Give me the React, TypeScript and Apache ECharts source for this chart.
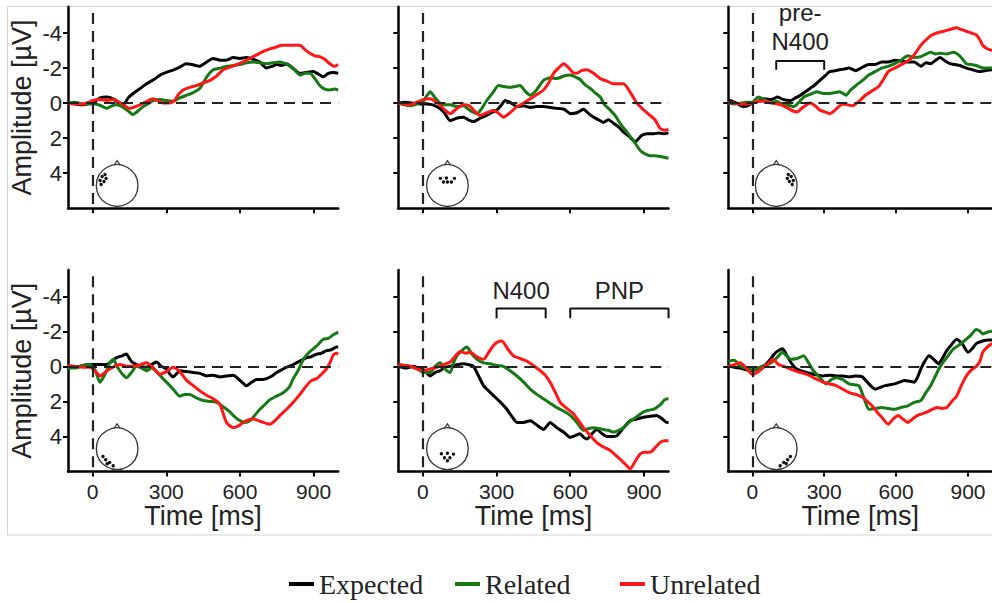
import React, { useEffect, useRef } from 'react';
import * as echarts from 'echarts';

// ---------- categories / ticks ----------
const conditions = ['Expected', 'Related', 'Unrelated'];
const conditionColors = ['#000000', '#157a15', '#ff1616'];
const xTicks = [0, 300, 600, 900];
const yTicks = [-4, -2, 0, 2, 4];
const xRange = [-100, 1000];
const yRange = [-5.5, 6];

// ---------- waveforms [time ms, amplitude µV] ----------
const p1Expected = [[-100,0],[-70,0.05],[-40,0.1],[-10,0],[10,-0.1],[30,-0.3],[60,-0.35],[90,-0.2],[110,0.05],[125,0.1],[145,-0.3],[165,-0.55],[195,-0.85],[220,-1.1],[250,-1.35],[275,-1.6],[300,-1.75],[330,-1.9],[355,-2.05],[380,-2.25],[405,-2.2],[435,-2.1],[460,-2.3],[490,-2.55],[520,-2.45],[545,-2.45],[572,-2.6],[600,-2.55],[627,-2.6],[655,-2.5],[681,-2.35],[708,-2.0],[730,-2.1],[749,-2.2],[770,-2.15],[790,-2.25],[815,-2.0],[844,-1.7],[870,-1.75],[898,-1.8],[920,-1.65],[939,-1.5],[960,-1.7],[980,-1.75],[1000,-1.7]];
const p1Related = [[-100,0],[-70,-0.05],[-40,0.05],[-10,0.05],[10,0.05],[35,0.15],[57,0.3],[80,0.15],[98,0.1],[120,0.2],[145,0.45],[165,0.65],[185,0.45],[206,0.2],[230,0.0],[247,-0.15],[275,-0.2],[301,-0.15],[330,-0.1],[355,-0.3],[383,-0.45],[410,-0.6],[437,-0.85],[465,-1.5],[491,-1.9],[520,-2.0],[545,-2.1],[575,-2.15],[600,-2.2],[627,-2.3],[654,-2.35],[680,-2.3],[708,-2.25],[735,-2.3],[763,-2.35],[785,-2.25],[803,-2.1],[825,-1.85],[844,-1.6],[865,-1.7],[885,-1.7],[905,-1.4],[925,-1.0],[945,-0.8],[966,-0.75],[985,-0.8],[1000,-0.75]];
const p1Unrelated = [[-100,0],[-70,0.05],[-40,0.05],[-15,-0.05],[0,-0.15],[30,-0.2],[60,-0.15],[84,-0.2],[110,-0.05],[130,0.15],[152,0.3],[175,0.2],[193,0.1],[220,-0.1],[247,-0.25],[270,-0.1],[288,0.0],[310,0.0],[330,-0.1],[350,-0.5],[369,-0.75],[395,-0.9],[423,-1.0],[450,-1.15],[478,-1.3],[505,-1.55],[532,-1.9],[560,-2.05],[586,-2.2],[613,-2.35],[640,-2.55],[668,-2.75],[695,-2.95],[722,-3.1],[749,-3.2],[770,-3.3],[790,-3.3],[815,-3.3],[844,-3.3],[865,-3.05],[885,-2.85],[905,-2.7],[925,-2.65],[945,-2.5],[966,-2.25],[985,-2.1],[1000,-2.2]];

const p2Expected = [[-100,0],[-70,-0.05],[-40,0],[-10,0.05],[20,0.05],[57,0.2],[85,0.5],[111,1.0],[140,0.85],[165,0.8],[185,0.95],[206,1.05],[235,0.85],[260,0.7],[285,0.5],[301,0.4],[320,0.1],[335,-0.15],[360,0.0],[383,0.2],[410,0.15],[437,0.25],[465,0.2],[491,0.2],[520,0.25],[545,0.3],[575,0.35],[600,0.6],[627,0.55],[654,0.35],[675,0.6],[695,0.8],[715,0.95],[735,1.1],[755,0.95],[776,1.15],[800,1.4],[817,1.65],[840,1.9],[864,2.2],[890,1.85],[912,1.75],[940,1.75],[960,1.7],[980,1.75],[1000,1.7]];
const p2Related = [[-100,0],[-75,0.1],[-50,0.15],[-25,0.05],[0,-0.1],[15,-0.4],[30,-0.65],[50,-0.3],[70,0.0],[90,0.1],[111,0.1],[140,0.2],[165,0.15],[195,0.45],[220,0.6],[240,0.3],[260,-0.15],[285,-0.6],[308,-1.0],[330,-0.95],[355,-0.9],[375,-0.95],[396,-1.0],[415,-0.7],[437,-0.45],[460,-0.7],[491,-1.3],[520,-1.45],[545,-1.4],[575,-1.55],[600,-1.6],[620,-1.5],[640,-1.35],[660,-1.05],[681,-0.85],[700,-0.6],[722,-0.35],[740,0.1],[763,0.4],[785,0.75],[803,1.15],[825,1.55],[844,1.9],[865,2.3],[885,2.7],[905,2.9],[925,3.0],[945,3.0],[966,3.05],[985,3.1],[1000,3.15]];
const p2Unrelated = [[-100,0],[-75,0.05],[-50,0.1],[-25,-0.05],[0,-0.2],[30,-0.25],[50,-0.1],[70,0.1],[90,0.4],[111,0.6],[135,0.35],[165,0.1],[190,0.15],[210,0.45],[233,0.7],[260,0.55],[288,0.4],[310,0.6],[328,0.8],[355,0.55],[383,0.2],[410,0.0],[437,-0.25],[465,-0.5],[491,-0.75],[510,-1.1],[532,-1.7],[552,-2.0],[573,-2.25],[595,-2.0],[610,-1.75],[627,-1.7],[645,-1.85],[668,-1.9],[695,-1.7],[722,-1.4],[750,-1.25],[776,-1.1],[800,-1.1],[817,-1.1],[845,-0.6],[871,0.0],[900,0.4],[925,0.7],[945,0.95],[966,1.45],[985,1.55],[1000,1.5]];

const p3Expected = [[-100,-0.15],[-80,-0.1],[-60,0.05],[-40,0.2],[-20,0.15],[0,0.0],[25,-0.1],[52,-0.25],[80,-0.2],[106,-0.35],[130,-0.2],[160,-0.15],[180,-0.3],[201,-0.45],[222,-0.65],[242,-0.85],[262,-1.05],[282,-1.3],[303,-1.55],[323,-1.8],[345,-1.85],[364,-1.9],[384,-1.95],[404,-2.0],[431,-1.85],[460,-2.05],[486,-2.2],[513,-2.2],[540,-2.35],[567,-2.35],[594,-2.45],[620,-2.4],[649,-2.35],[676,-2.35],[703,-2.1],[725,-2.3],[744,-2.25],[765,-2.45],[784,-2.6],[805,-2.4],[825,-2.25],[845,-2.2],[866,-2.15],[893,-2.0],[920,-1.9],[947,-1.8],[970,-1.85],[1000,-1.9]];
const p3Related = [[-100,0],[-75,0.05],[-50,0.0],[-25,-0.05],[0,-0.05],[25,-0.35],[52,-0.2],[79,0.0],[100,-0.1],[119,0.0],[145,0.1],[174,0.2],[195,-0.05],[215,-0.35],[242,-0.5],[269,-0.65],[296,-0.55],[323,-0.55],[345,-0.6],[364,-0.65],[391,-0.45],[410,-0.75],[432,-1.0],[460,-1.3],[486,-1.6],[513,-1.8],[540,-2.0],[567,-2.1],[594,-2.25],[620,-2.45],[649,-2.7],[676,-2.6],[703,-2.65],[725,-2.8],[744,-2.9],[765,-2.8],[784,-2.85],[810,-2.8],[839,-2.9],[865,-2.7],[893,-2.25],[915,-2.2],[934,-2.15],[961,-2.0],[980,-2.0],[1000,-2.0]];
const p3Unrelated = [[-100,0],[-75,0.0],[-50,0.05],[-25,0.05],[0,0.0],[25,-0.1],[52,-0.1],[85,0.0],[119,0.1],[150,0.3],[170,0.45],[187,0.5],[210,0.25],[242,0.0],[262,0.15],[282,0.4],[303,0.5],[323,0.6],[345,0.4],[377,0.05],[398,0.1],[418,0.15],[445,-0.1],[472,-0.45],[500,-0.7],[527,-0.95],[547,-1.35],[567,-1.8],[594,-2.0],[621,-2.2],[642,-2.35],[662,-2.55],[683,-2.9],[703,-3.3],[724,-3.6],[744,-3.85],[770,-4.0],[798,-4.1],[825,-4.2],[852,-4.3],[872,-4.2],[893,-4.1],[914,-4.0],[934,-3.9],[950,-3.6],[961,-3.3],[980,-3.1],[1000,-3.0]];

const p4Expected = [[-100,0.0],[-70,0.05],[-40,-0.05],[-10,-0.1],[20,-0.1],[57,-0.1],[80,-0.3],[98,-0.5],[120,-0.6],[138,-0.7],[152,-0.4],[165,-0.2],[195,0.0],[220,0.05],[240,-0.1],[260,-0.25],[280,0.0],[301,0.15],[315,0.45],[328,0.6],[340,0.45],[355,0.25],[385,0.3],[410,0.35],[437,0.4],[464,0.55],[490,0.5],[518,0.6],[545,0.55],[573,0.5],[600,0.8],[627,1.1],[648,0.9],[668,0.75],[690,0.75],[708,0.7],[730,0.55],[749,0.35],[770,0.2],[790,0.05],[810,-0.05],[830,-0.2],[850,-0.35],[871,-0.5],[890,-0.55],[912,-0.7],[932,-0.75],[952,-0.9],[972,-0.95],[993,-1.1],[1000,-1.1]];
const p4Related = [[-100,0.1],[-70,0.1],[-40,-0.05],[-10,-0.1],[10,0.2],[30,0.9],[45,0.6],[57,0.25],[70,-0.2],[84,-0.4],[98,-0.05],[111,0.25],[125,0.5],[138,0.65],[158,0.35],[179,0.0],[200,0.1],[220,0.25],[240,0.1],[260,0.3],[280,0.6],[301,0.9],[328,1.3],[355,1.7],[375,1.6],[396,1.6],[423,1.8],[450,1.95],[478,2.0],[505,2.05],[532,2.3],[559,2.6],[580,2.9],[600,3.1],[620,3.2],[640,3.1],[660,2.8],[681,2.45],[700,2.2],[722,1.9],[749,1.7],[776,1.5],[800,1.2],[817,0.7],[838,0.2],[858,-0.4],[878,-0.75],[898,-1.0],[918,-1.25],[939,-1.55],[960,-1.6],[980,-1.8],[1000,-1.95]];
const p4Unrelated = [[-100,-0.05],[-70,0.0],[-40,0.05],[-10,0.05],[10,0.25],[30,0.55],[50,0.35],[70,0.15],[90,0.0],[111,-0.1],[140,0.0],[165,0.0],[195,-0.1],[220,-0.2],[245,0.05],[274,0.45],[300,0.3],[328,0.05],[355,0.3],[383,0.8],[410,1.1],[437,1.4],[464,1.65],[491,1.85],[518,2.15],[532,2.7],[545,3.2],[560,3.4],[573,3.5],[593,3.4],[613,3.2],[634,3.05],[654,3.0],[675,3.1],[695,3.2],[722,3.3],[743,3.1],[763,2.8],[790,2.45],[817,2.05],[844,1.6],[871,1.1],[892,0.8],[912,0.7],[932,0.45],[952,0.15],[966,-0.2],[980,-0.65],[993,-0.75],[1000,-0.7]];

const p5Expected = [[-100,0.0],[-70,0.1],[-40,0.0],[-15,0.1],[0,0.15],[30,0.55],[50,0.35],[70,0.25],[90,0.05],[111,0.0],[140,-0.1],[165,-0.15],[185,-0.1],[206,0.0],[225,0.5],[247,1.1],[275,1.5],[301,1.85],[320,2.1],[342,2.45],[362,2.85],[383,3.2],[410,3.2],[437,3.1],[464,3.35],[491,3.6],[505,3.4],[518,3.2],[545,3.5],[573,3.75],[600,4.05],[620,3.95],[640,3.85],[655,4.05],[668,4.15],[688,3.85],[708,3.6],[730,3.85],[749,4.0],[770,4.0],[790,3.95],[817,3.5],[844,3.1],[871,3.0],[898,2.9],[925,2.85],[952,2.8],[975,3.0],[993,3.2],[1000,3.2]];
const p5Related = [[-100,-0.1],[-70,-0.05],[-40,0.05],[-15,0.2],[0,0.35],[30,0.35],[50,0.0],[70,-0.2],[90,0.15],[111,0.35],[125,-0.2],[138,-0.6],[158,-0.9],[179,-1.1],[200,-0.7],[220,-0.4],[247,-0.2],[274,-0.15],[301,-0.05],[328,0.0],[355,0.25],[383,0.55],[410,0.9],[437,1.3],[464,1.6],[491,1.85],[518,2.1],[545,2.35],[573,2.55],[600,2.8],[627,3.2],[654,3.65],[675,3.55],[695,3.5],[715,3.55],[735,3.6],[755,3.65],[776,3.75],[797,3.65],[817,3.5],[838,3.2],[858,3.0],[878,2.8],[898,2.6],[918,2.5],[939,2.45],[966,2.2],[985,1.9],[1000,1.85]];
const p5Unrelated = [[-100,-0.1],[-70,-0.05],[-40,0.05],[-15,0.2],[0,0.25],[30,0.15],[57,0.05],[85,-0.1],[111,-0.25],[130,-0.55],[152,-0.85],[175,-0.75],[193,-0.8],[220,-0.55],[247,-0.4],[268,-0.8],[288,-1.2],[305,-1.4],[322,-1.45],[345,-1.0],[369,-0.6],[396,-0.45],[423,-0.3],[450,-0.05],[478,0.25],[498,0.5],[518,0.9],[538,1.45],[559,2.05],[586,2.4],[613,2.7],[634,3.1],[654,3.5],[681,3.95],[708,4.35],[735,4.6],[763,4.8],[783,5.05],[803,5.3],[825,5.6],[844,5.85],[865,5.4],[885,5.0],[905,4.9],[925,4.9],[945,4.65],[966,4.35],[985,4.25],[1000,4.25]];

const p6Expected = [[-100,-0.05],[-75,0.05],[-50,0.1],[-25,0.2],[0,0.25],[25,0.1],[52,-0.05],[72,-0.35],[92,-0.7],[110,-0.9],[126,-1.0],[143,-0.65],[160,-0.25],[180,0.1],[201,0.25],[228,0.35],[255,0.45],[276,0.5],[296,0.55],[323,0.5],[350,0.55],[377,0.55],[404,0.6],[431,0.55],[459,0.6],[486,1.0],[513,1.3],[534,1.2],[554,1.1],[574,1.05],[594,1.0],[615,0.9],[635,0.8],[656,0.85],[676,0.9],[690,0.6],[703,0.15],[720,-0.3],[737,-0.6],[757,-0.4],[777,-0.15],[795,-0.5],[811,-0.9],[832,-1.25],[852,-1.55],[875,-1.3],[900,-0.8],[917,-1.0],[934,-1.3],[961,-1.45],[985,-1.5],[1000,-1.5]];
const p6Related = [[-100,-0.3],[-75,-0.35],[-50,0.0],[-25,0.1],[0,0.2],[25,0.1],[52,-0.05],[72,-0.15],[92,-0.35],[110,-0.6],[126,-0.8],[143,-0.6],[160,-0.4],[187,-0.45],[214,-0.6],[235,-0.2],[255,0.25],[282,0.65],[309,1.0],[330,0.75],[350,0.65],[377,0.75],[404,1.0],[425,1.05],[445,1.1],[466,1.8],[486,2.45],[513,2.4],[540,2.35],[567,2.4],[594,2.45],[620,2.35],[649,2.25],[676,2.05],[703,1.95],[724,1.5],[744,1.1],[764,0.55],[784,0.0],[811,-0.5],[839,-1.0],[866,-1.25],[893,-1.55],[913,-1.8],[934,-2.1],[950,-2.0],[961,-1.85],[980,-1.95],[1000,-2.0]];
const p6Unrelated = [[-100,0.0],[-75,-0.1],[-50,-0.2],[-25,0.1],[0,0.45],[25,0.3],[52,0.0],[70,-0.2],[86,-0.4],[110,-0.1],[133,0.0],[160,0.15],[187,0.3],[215,0.4],[242,0.55],[270,0.75],[296,0.9],[323,1.0],[350,1.1],[377,1.3],[404,1.5],[432,1.6],[459,1.75],[480,2.0],[500,2.25],[520,2.6],[540,2.9],[567,3.3],[588,3.0],[608,2.8],[628,3.0],[649,3.2],[669,3.0],[689,2.8],[710,2.7],[730,2.6],[750,2.45],[771,2.35],[791,2.4],[811,2.35],[832,2.0],[852,1.7],[872,1.1],[893,0.55],[914,0.2],[934,0.0],[950,-0.3],[961,-0.8],[980,-1.1],[1000,-1.3]];

const panelWaves = [
  [p1Expected, p1Related, p1Unrelated],
  [p2Expected, p2Related, p2Unrelated],
  [p3Expected, p3Related, p3Unrelated],
  [p4Expected, p4Related, p4Unrelated],
  [p5Expected, p5Related, p5Unrelated],
  [p6Expected, p6Related, p6Unrelated],
];

// electrode clusters on the head icon (head-relative, radius = 1)
const electrodes1 = [[-0.58,-0.53],[-0.72,-0.43],[-0.53,-0.34],[-0.82,-0.24],[-0.63,-0.19],[-0.77,-0.05]];
const electrodes2 = [[-0.34,-0.34],[0.34,-0.34],[-0.19,-0.17],[0,-0.17],[0.19,-0.17],[-0.05,-0.36]];
const electrodes3 = [[0.58,-0.53],[0.72,-0.43],[0.53,-0.34],[0.82,-0.24],[0.63,-0.19],[0.77,-0.05]];
const electrodes4 = [[-0.68,0.37],[-0.55,0.53],[-0.36,0.66],[-0.19,0.82],[-0.48,0.72]];
const electrodes5 = [[-0.29,0.24],[0,0.22],[0.29,0.26],[-0.14,0.43],[0.12,0.43],[0,0.58]];
const electrodes6 = [[0.68,0.37],[0.55,0.53],[0.36,0.66],[0.19,0.82],[0.48,0.72]];
const panelElectrodes = [electrodes1, electrodes2, electrodes3, electrodes4, electrodes5, electrodes6];
const headTime = 100;
const headValue = 4.7;

// analysis windows
const windowLabels = ['pre-\nN400', 'N400', 'PNP'];
const windowPanels = [2, 4, 4];
const windowStarts = [100, 300, 600];
const windowEnds = [300, 500, 1000];
const windowBarLevel = [-2.4, -3.3, -3.3];
const windowLegLevel = [-1.9, -2.75, -2.75];
const windowLabelLevel = [-4.35, -4.35, -4.35];

// legend
const legendLefts = [289, 455, 620];

export default function App() {
  const ref = useRef<HTMLDivElement>(null);
  useEffect(() => {
    if (!ref.current) return;
    const chart = echarts.init(ref.current, null, { renderer: 'svg' });
    const gridLefts = [68, 398.3, 728.3];
    const gridTops = [6.75, 270];
    const gridW = 270.2;
    const gridH = 201.5;
    const font = 'Liberation Sans';
    const grids: any[] = [];
    const xAxes: any[] = [];
    const yAxes: any[] = [];
    const series: any[] = [];
    for (let i = 0; i < 6; i++) {
      const row = Math.floor(i / 3);
      const col = i % 3;
      grids.push({ left: gridLefts[col], top: gridTops[row], width: gridW, height: gridH });
      xAxes.push({
        type: 'value', gridIndex: i, min: xRange[0], max: xRange[1],
        axisLine: { show: true, onZero: false, lineStyle: { color: '#000', width: 2.5 } },
        axisTick: { show: true, inside: false, length: 5, customValues: xTicks, lineStyle: { color: '#000', width: 2 } },
        axisLabel: { show: row === 1, customValues: xTicks, margin: 9, fontSize: 21, fontFamily: font, color: '#222' },
        splitLine: { show: false },
        name: row === 1 ? 'Time [ms]' : '',
        nameLocation: 'middle', nameGap: 25,
        nameTextStyle: { fontSize: 27, fontFamily: font, color: '#222' },
      });
      yAxes.push({
        type: 'value', gridIndex: i, min: yRange[0], max: yRange[1], inverse: true,
        axisLine: { show: true, onZero: false, lineStyle: { color: '#000', width: 2.5 } },
        axisTick: { show: true, inside: false, length: 5, customValues: yTicks, lineStyle: { color: '#000', width: 2 } },
        axisLabel: { show: col === 0, customValues: yTicks, margin: 6, fontSize: 22, fontFamily: font, color: '#222', formatter: (v: number) => String(v) },
        splitLine: { show: false },
        name: col === 0 ? 'Amplitude [µV]' : '',
        nameLocation: 'middle', nameGap: 33,
        nameTextStyle: { fontSize: 27, fontFamily: font, color: '#222' },
      });
      series.push({
        type: 'line', name: 'ref' + i, xAxisIndex: i, yAxisIndex: i, data: [[0, 0]],
        showSymbol: false, lineStyle: { opacity: 0 }, z: 1, silent: true,
        markLine: {
          silent: true, symbol: ['none', 'none'], label: { show: false },
          lineStyle: { color: '#222', width: 2.2, type: [11, 7] },
          data: [
            [{ coord: [0, -5.15] }, { coord: [0, yRange[1]] }],
            [{ coord: [xRange[0], 0] }, { coord: [xRange[1], 0] }],
          ],
        },
      });
      conditions.forEach((name, k) => {
        series.push({
          type: 'line', name, xAxisIndex: i, yAxisIndex: i, data: panelWaves[i][k],
          showSymbol: false, smooth: 0.2, z: 2 + k,
          lineStyle: { color: conditionColors[k], width: 3 },
          itemStyle: { color: conditionColors[k] },
        });
      });
    }
    windowLabels.forEach((lab, w) => {
      const p = windowPanels[w];
      series.push({
        type: 'line', name: 'win' + w, xAxisIndex: p, yAxisIndex: p, silent: true,
        data: [[windowStarts[w], windowLegLevel[w]], [windowStarts[w], windowBarLevel[w]], [windowEnds[w], windowBarLevel[w]], [windowEnds[w], windowLegLevel[w]]],
        showSymbol: false, smooth: false, z: 6,
        lineStyle: { color: '#111', width: 2 },
      });
    });
    const legends = conditions.map((name, k) => ({
      data: [name], left: legendLefts[k], top: 570, orient: 'horizontal', padding: 0,
      icon: 'rect', itemWidth: 25, itemHeight: 4, selectedMode: false,
      textStyle: { fontFamily: 'Liberation Serif', fontSize: 28, color: '#222' },
    }));
    chart.setOption({
      animation: false,
      backgroundColor: '#ffffff',
      textStyle: { fontFamily: font },
      grid: grids, xAxis: xAxes, yAxis: yAxes, series, legend: legends,
    });

    const graphics: any[] = [
      { type: 'rect', shape: { x: 7.5, y: 6.5, width: 1100, height: 528.5 }, style: { fill: 'none', stroke: '#d4d4d4', lineWidth: 1 }, z: 0, silent: true },
    ];
    const r = 20.8;
    for (let i = 0; i < 6; i++) {
      const [cx, cy] = chart.convertToPixel({ gridIndex: i }, [headTime, headValue]) as number[];
      graphics.push({ type: 'circle', shape: { cx, cy, r }, style: { fill: '#fff', stroke: '#333', lineWidth: 1.3 }, z: 10, silent: true });
      graphics.push({ type: 'polyline', shape: { points: [[cx - 3, cy - r + 0.3], [cx, cy - r - 4], [cx + 3, cy - r + 0.3]] }, style: { fill: 'none', stroke: '#333', lineWidth: 1.2 }, z: 10, silent: true });
      panelElectrodes[i].forEach(([ex, ey]) => {
        graphics.push({ type: 'circle', shape: { cx: cx + ex * r, cy: cy + ey * r, r: 1.7 }, style: { fill: '#111' }, z: 11, silent: true });
      });
    }
    windowLabels.forEach((lab, w) => {
      const p = windowPanels[w];
      const [tx, ty] = chart.convertToPixel({ gridIndex: p }, [(windowStarts[w] + windowEnds[w]) / 2, windowLabelLevel[w]]) as number[];
      graphics.push({ type: 'text', x: tx, y: ty, style: { text: lab, fontFamily: font, fontSize: 24, lineHeight: 29, fill: '#222', align: 'center', verticalAlign: 'middle' }, z: 12, silent: true });
    });
    chart.setOption({ graphic: graphics });
    return () => chart.dispose();
  }, []);
  return <div ref={ref} style={{ position: 'absolute', left: 0, top: 0, width: 992, height: 603 }} />;
}
